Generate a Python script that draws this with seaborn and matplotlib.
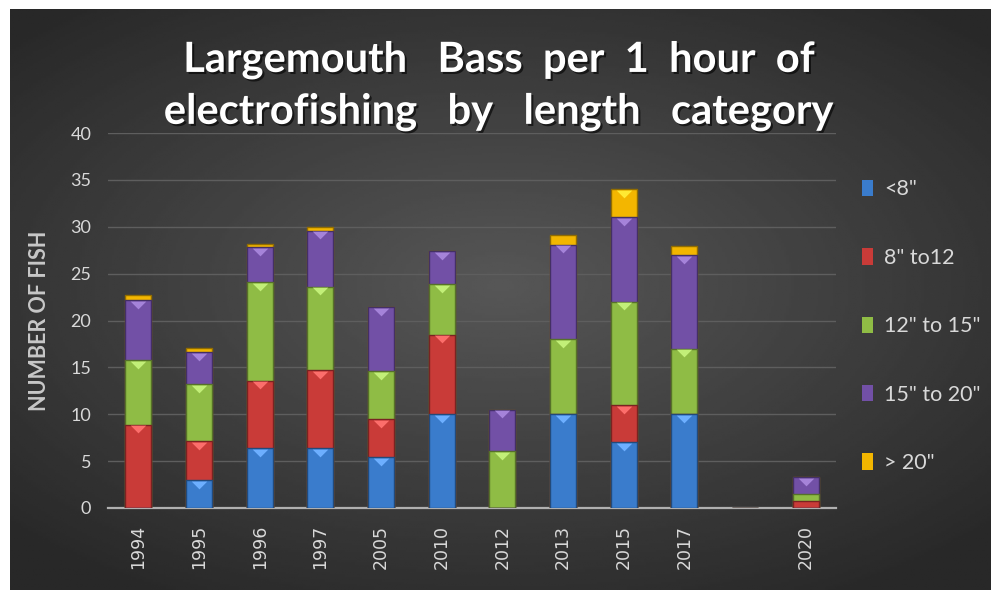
import matplotlib
matplotlib.use('Agg')

import numpy as np
import pandas as pd
import matplotlib.pyplot as plt
import matplotlib.colors as mcolors
import matplotlib.patheffects as pe
from matplotlib.patches import Patch
import seaborn as sns


# values (fish per hour), blank slot before 2020
years = ['1994', '1995', '1996', '1997', '2005', '2010', '2012', '2013', '2015', '2017', ' ', '2020']
under8 = [0, 3.0, 6.4, 6.4, 5.4, 10.0, 0, 10.0, 7.0, 10.0, 0, 0]
in8to12 = [8.9, 4.1, 7.2, 8.3, 4.1, 8.5, 0, 0, 4.0, 0, 0, 0.8]
in12to15 = [6.9, 6.1, 10.5, 8.9, 5.1, 5.4, 6.1, 8.0, 11.0, 7.0, 0, 0.7]
in15to20 = [6.4, 3.4, 3.7, 6.0, 6.8, 3.5, 4.4, 10.1, 9.0, 10.0, 0, 1.8]
over20 = [0.5, 0.5, 0.4, 0.4, 0, 0, 0, 1.0, 3.0, 1.0, 0, 0]

labels = ['<8"', '8" to12', '12" to 15"', '15" to 20"', '> 20"']
colors = ['#3a7ccc', '#c93b38', '#8fbc45', '#7250a6', '#f3b600']

df = pd.DataFrame({'year': years, labels[0]: under8, labels[1]: in8to12,
                   labels[2]: in12to15, labels[3]: in15to20, labels[4]: over20})
cum = df[labels].cumsum(axis=1)

fig = plt.figure(figsize=(9.97, 5.90), dpi=100)
fig.patch.set_facecolor('white')

# dark radial gradient backdrop
bg = fig.add_axes([10 / 997, 0, 980 / 997, 581 / 590])
gx, gy = np.meshgrid(np.linspace(-1, 1, 400), np.linspace(-1, 1, 240))
d = np.sqrt((gx * 0.95) ** 2 + ((gy + 0.05) * 1.05) ** 2)
shade = 0.34 - 0.18 * np.clip(d, 0, 1.3) / 1.3
bg.imshow(shade, cmap='gray', vmin=0, vmax=1, aspect='auto', extent=[0, 1, 0, 1])
bg.axis('off')

ax = fig.add_axes([108 / 997, 82 / 590, 728 / 997, 375 / 590])
ax.set_facecolor('none')

# stacked bars: draw cumulative totals from the top segment down
for i in range(len(labels) - 1, -1, -1):
    col = labels[i]
    edge = tuple(c * 0.6 for c in mcolors.to_rgb(colors[i]))
    sns.barplot(x=df['year'], y=cum[col], order=years, color=colors[i], saturation=1,
                width=0.43, edgecolor=edge, linewidth=1.0, ax=ax, zorder=3)

# flat light bevel triangles hanging from the top of each segment
bevel = [(-1, 0.5), (1, 0.5), (0, -0.5), (-1, 0.5)]
pos = np.arange(len(years))
for i, col in enumerate(labels):
    seg = df[col].values
    top = cum[col].values
    m = seg > 1
    light = tuple(min(1, c + 0.2) for c in mcolors.to_rgb(colors[i]))
    ax.scatter(pos[m], top[m] - 0.5, marker=bevel, s=125, color=light,
               linewidths=0, zorder=4)

ax.set_ylim(0, 40)
ax.set_xlim(-0.5, len(years) - 0.5)
ax.set_yticks(range(0, 41, 5))
ax.grid(axis='y', color='#5e5e5e', linewidth=1.0)
ax.set_axisbelow(True)
for s in ['top', 'right', 'left']:
    ax.spines[s].set_visible(False)
ax.spines['bottom'].set_color('#b0b0b0')
ax.spines['bottom'].set_linewidth(1.6)
ax.tick_params(axis='both', length=0, colors='#d9d9d9')
ax.tick_params(axis='y', labelsize=13, pad=12)
ax.tick_params(axis='x', labelsize=12.5, pad=12)
for t in ax.get_yticklabels():
    t.set_family('Lato')
for t in ax.get_xticklabels():
    t.set_rotation(90)
ax.set_xlabel('')
ax.set_ylabel('NUMBER OF FISH', fontsize=15.5, fontweight='bold', color='#c8c8c8',
              family='Lato', labelpad=15)

shadow = [pe.withSimplePatchShadow(offset=(1.5, -1.5), shadow_rgbFace='black', alpha=0.6)]
fig.text(0.5, 0.898, 'Largemouth   Bass  per  1  hour  of', ha='center', va='center',
         fontsize=30, fontweight='bold', color='white', family='Lato', path_effects=shadow)
fig.text(0.5, 0.81, 'electrofishing   by   length   category', ha='center', va='center',
         fontsize=30, fontweight='bold', color='white', family='Lato', path_effects=shadow)

handles = [Patch(facecolor=colors[i], edgecolor='none') for i in range(len(labels))]
leg = fig.legend(handles, labels, loc='upper left', bbox_to_anchor=(843 / 997, 1 - 160 / 590),
                 frameon=False, handlelength=0.5, handleheight=0.8, handletextpad=0.5,
                 labelspacing=2.25, prop={'family': 'Lato', 'size': 15.5}, labelcolor='#d9d9d9')

fig.savefig('out.png', dpi=100, facecolor=fig.get_facecolor())
